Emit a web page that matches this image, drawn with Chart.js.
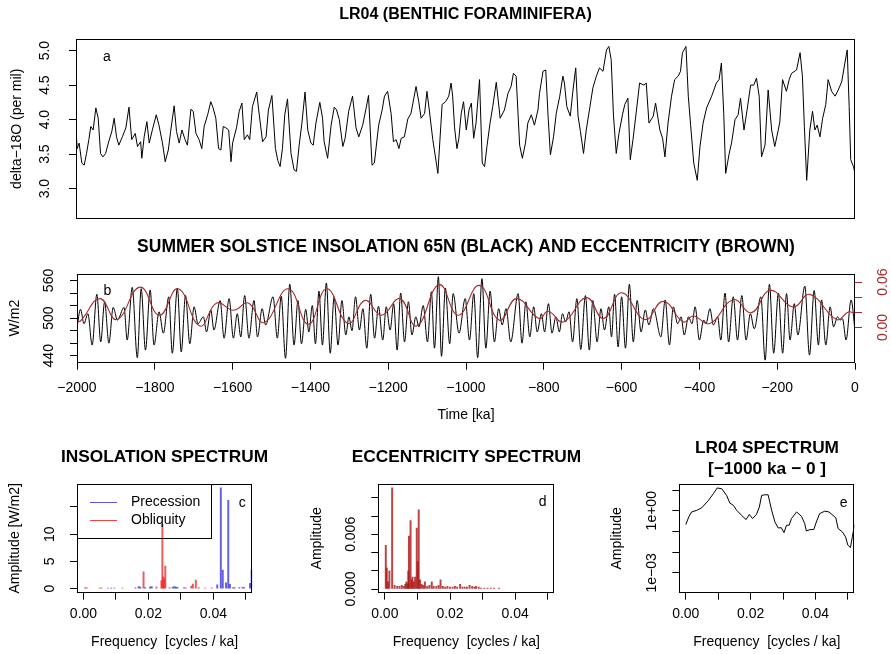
<!DOCTYPE html>
<html><head><meta charset="utf-8">
<script src="https://cdn.jsdelivr.net/npm/chart.js"></script>
<style>
html,body{margin:0;padding:0;background:#fff;width:891px;height:654px;overflow:hidden;position:relative;}
canvas{position:absolute;}
</style></head>
<body>
<canvas id="ca"></canvas><canvas id="cb"></canvas><canvas id="cc"></canvas><canvas id="cd"></canvas><canvas id="ce"></canvas>
<script>
// ---------- DATA ----------
const lr04Time = [-2000,-1997,-1992,-1985,-1979,-1973,-1967,-1962,-1956,-1949,-1943,-1937,-1931,-1924,-1917,-1908,-1902,-1896,-1890,-1881,-1872,-1864,-1857,-1848,-1842,-1834,-1831,-1825,-1818,-1812,-1804,-1794,-1787,-1778,-1771,-1763,-1757,-1748,-1742,-1735,-1728,-1720,-1714,-1705,-1699,-1692,-1684,-1677,-1671,-1662,-1654,-1648,-1641,-1634,-1628,-1622,-1615,-1608,-1602,-1598,-1588,-1581,-1574,-1568,-1560,-1554,-1547,-1536,-1531,-1521,-1512,-1506,-1497,-1488,-1482,-1476,-1470,-1464,-1457,-1448,-1440,-1434,-1427,-1420,-1412,-1405,-1397,-1391,-1384,-1374,-1367,-1363,-1354,-1345,-1337,-1331,-1324,-1315,-1309,-1300,-1290,-1281,-1274,-1264,-1255,-1249,-1240,-1234,-1223,-1214,-1208,-1200,-1191,-1185,-1178,-1171,-1165,-1157,-1148,-1140,-1127,-1120,-1114,-1105,-1099,-1093,-1084,-1074,-1071,-1060,-1051,-1043,-1037,-1033,-1028,-1022,-1017,-1011,-1005,-998,-991,-985,-979,-973,-964,-957,-951,-945,-937,-930,-921,-911,-900,-891,-883,-877,-870,-861,-854,-846,-840,-831,-823,-814,-810,-801,-794,-788,-782,-774,-767,-758,-750,-746,-740,-731,-724,-717,-711,-705,-697,-690,-681,-673,-664,-656,-647,-638,-632,-626,-620,-613,-606,-597,-591,-583,-577,-570,-561,-553,-542,-536,-529,-518,-512,-501,-494,-488,-480,-471,-463,-454,-448,-443,-434,-428,-422,-414,-405,-398,-390,-381,-368,-356,-349,-343,-337,-332,-323,-317,-308,-300,-294,-285,-277,-268,-260,-253,-246,-240,-231,-223,-214,-206,-197,-193,-186,-176,-169,-163,-150,-141,-135,-130,-124,-116,-109,-103,-97,-90,-83,-75,-69,-60,-51,-43,-34,-26,-20,-15,-11,-4,0];
const lr04D18O = [3.85,3.58,3.66,3.37,3.34,3.51,3.71,3.90,3.85,4.17,4.02,3.51,3.46,3.51,3.66,3.83,4.02,3.75,3.63,3.75,3.88,4.18,3.71,3.80,3.61,3.68,3.44,3.75,3.97,3.66,3.85,4.07,3.92,3.66,3.39,3.56,3.83,4.20,3.83,3.66,3.85,3.71,3.63,4.15,4.12,3.80,3.71,3.58,3.90,4.07,4.26,4.17,4.02,3.58,3.56,3.90,3.88,3.85,3.39,3.66,3.88,4.12,4.24,3.71,3.78,3.71,4.19,4.40,4.14,3.68,3.75,4.14,4.35,3.58,3.41,3.32,3.58,4.07,4.30,3.51,3.27,3.25,3.63,3.95,4.40,3.85,3.66,3.63,3.95,4.25,4.02,3.68,3.44,3.92,4.18,4.14,4.00,3.61,3.73,4.12,4.34,3.88,3.75,3.92,4.17,4.35,3.34,3.37,3.92,4.14,4.34,4.41,4.09,3.68,3.71,3.58,3.73,3.75,4.01,4.09,4.48,4.26,4.02,4.09,4.41,4.14,3.71,3.34,3.22,4.22,4.26,4.34,4.53,4.34,3.88,3.58,3.73,4.09,4.26,3.85,4.14,4.24,3.73,3.95,4.58,3.37,3.32,3.61,3.95,4.19,4.54,4.02,4.14,4.38,4.48,4.67,4.63,3.63,3.44,3.66,3.95,4.07,3.92,4.14,4.38,4.70,4.72,4.05,3.49,3.75,4.09,4.34,4.63,4.53,4.19,4.05,4.43,4.75,4.05,3.83,3.51,3.85,4.17,4.46,4.63,4.75,4.70,5.01,5.06,4.87,4.05,3.51,3.80,4.07,4.22,4.31,3.42,3.71,4.14,4.53,4.50,4.53,3.95,4.05,4.24,3.85,3.73,3.46,3.95,4.34,4.58,4.63,4.70,4.97,5.06,4.34,3.92,3.37,3.12,3.61,3.95,4.17,4.34,4.53,4.58,4.82,4.09,3.22,3.51,3.66,4.00,4.07,4.31,3.85,4.14,4.50,4.50,4.60,4.34,3.46,3.63,4.43,3.85,3.61,3.85,3.97,4.58,4.41,4.58,4.67,4.72,4.97,4.63,3.90,3.12,3.85,4.12,3.85,3.92,3.75,4.02,4.22,4.58,4.41,4.34,4.43,4.55,4.82,5.01,4.19,3.42,3.32,3.22];

const insolTime = [-2000,-1991,-1982,-1972,-1961,-1949,-1939,-1929,-1918,-1907,-1896,-1879,-1871,-1858,-1845,-1835,-1824,-1812,-1802,-1789,-1778,-1764,-1755,-1742,-1732,-1721,-1710,-1699,-1689,-1675,-1667,-1656,-1648,-1632,-1622,-1609,-1598,-1588,-1579,-1569,-1558,-1545,-1536,-1524,-1515,-1496,-1485,-1475,-1464,-1453,-1442,-1432,-1423,-1412,-1404,-1395,-1387,-1378,-1369,-1359,-1349,-1339,-1329,-1319,-1309,-1301,-1293,-1284,-1274,-1265,-1255,-1245,-1235,-1225,-1214,-1205,-1195,-1186,-1177,-1168,-1158,-1148,-1139,-1129,-1121,-1110,-1099,-1089,-1081,-1071,-1063,-1053,-1042,-1033,-1018,-1002,-991,-980,-970,-959,-949,-938,-927,-916,-907,-897,-885,-866,-856,-846,-836,-826,-817,-806,-798,-788,-779,-769,-760,-752,-744,-735,-726,-715,-705,-693,-683,-674,-663,-653,-644,-633,-626,-618,-609,-600,-590,-580,-570,-560,-550,-539,-530,-518,-499,-488,-477,-467,-456,-447,-439,-428,-419,-411,-400,-389,-383,-373,-364,-353,-345,-334,-325,-313,-302,-291,-280,-269,-259,-242,-231,-220,-209,-197,-186,-176,-167,-156,-147,-129,-117,-105,-94,-86,-75,-64,-55,-45,-38,-32,-23,-10,0];
const insolWm2 = [485,514,491,507,457,538,462,526,460,517,497,517,465,549,437,547,449,545,457,510,476,534,444,548,446,536,459,518,491,502,478,513,481,528,468,531,468,507,470,536,468,528,470,515,489,534,468,535,436,554,457,528,459,514,478,520,459,543,457,556,444,534,457,528,473,502,480,534,481,515,452,538,468,519,465,518,481,523,449,540,462,526,473,502,486,520,462,542,452,566,439,548,459,539,476,531,465,539,437,563,452,543,462,515,489,515,462,539,460,526,470,518,478,507,478,523,476,502,478,507,494,510,462,531,450,536,449,528,462,515,481,518,470,538,454,534,452,554,462,528,478,513,489,515,470,529,457,518,491,502,473,502,491,518,465,497,491,515,489,502,465,540,462,534,465,536,465,507,483,534,433,554,444,540,444,539,465,523,473,551,441,544,457,529,457,518,486,502,497,499,465,529,480];

const eccTime = [-2000,-1992,-1941,-1898,-1838,-1788,-1740,-1684,-1641,-1598,-1560,-1519,-1457,-1405,-1358,-1303,-1260,-1217,-1170,-1127,-1069,-1020,-966,-914,-870,-812,-789,-750,-690,-647,-600,-540,-493,-441,-416,-373,-313,-266,-218,-159,-116,-47,-17,0];
const eccValue = [0.0105,0.0083,0.0382,0.0105,0.0534,0.0162,0.0513,0.0020,0.0324,0.0228,0.0324,0.0066,0.0513,0.0043,0.0513,0.0053,0.0359,0.0162,0.0382,0.0020,0.0566,0.0162,0.0557,0.0096,0.0382,0.0118,0.0214,0.0074,0.0395,0.0118,0.0460,0.0105,0.0346,0.0074,0.0153,0.0053,0.0368,0.0197,0.0491,0.0271,0.0438,0.0105,0.0205,0.0184];

const precFreq = [0.0085,0.0095,0.0170,0.0175,0.0190,0.0205,0.0210,0.0275,0.0280,0.0285,0.0290,0.0315,0.0412,0.0423,0.0429,0.0439,0.0446,0.0451,0.0465,0.0480,0.0495,0.0513,0.0518];
const precAmp  = [0.1,0.1,0.4,0.3,0.2,0.3,0.4,0.3,0.4,0.3,0.2,0.1,0.7,18.5,3.4,1.1,16.2,0.8,0.2,0.2,0.2,1.0,3.4];
const obliqFreq = [0.0005,0.0010,0.0050,0.0055,0.0075,0.0120,0.0160,0.0185,0.0225,0.0240,0.0243,0.0246,0.0249,0.0252,0.0265,0.0310,0.0332,0.0337,0.0346,0.0355,0.0375,0.0395,0.0460,0.0490];
const obliqAmp  = [0.2,0.15,0.1,0.15,0.1,0.1,0.2,3.1,0.3,1.5,11.8,2.2,1.8,4.15,0.2,0.2,0.5,0.85,1.6,0.2,0.1,0.15,0.2,0.3];

const eccSpecFreq = [0.0003,0.0006,0.0010,0.0014,0.00225,0.0030,0.0038,0.0045,0.0052,0.0058,0.0063,0.0066,0.0070,0.0072,0.0074,0.0079,0.0082,0.0085,0.0089,0.0093,0.0098,0.0101,0.0104,0.0108,0.0113,0.0118,0.0123,0.0130,0.0137,0.0144,0.0150,0.0158,0.0165,0.0171,0.0178,0.0185,0.0192,0.0200,0.0208,0.0215,0.0222,0.0231,0.0238,0.0245,0.0252,0.0260,0.0268,0.0275,0.0280,0.0288,0.0295,0.0305,0.0315,0.0325,0.0335,0.0350];
const eccSpecAmp  = [0.0048,0.0023,0.0008,0.0020,0.0111,0.0004,0.0003,0.0003,0.0004,0.0003,0.0005,0.0008,0.0006,0.0020,0.0058,0.0075,0.0010,0.0013,0.0008,0.0013,0.0067,0.0030,0.0087,0.0010,0.0005,0.0004,0.0008,0.0003,0.0004,0.0008,0.0003,0.0003,0.0004,0.0010,0.0003,0.0002,0.0003,0.0002,0.0002,0.0003,0.0002,0.0005,0.0002,0.0002,0.0002,0.0004,0.0003,0.0002,0.0003,0.0002,0.0001,0.0001,0.0001,0.0001,0.0001,0.0001];

const lrSpecFreq = [0,0.0010,0.0018,0.0034,0.0049,0.0070,0.0085,0.0097,0.0111,0.0126,0.0136,0.0147,0.0157,0.0172,0.0186,0.0196,0.0206,0.0218,0.0227,0.0234,0.0244,0.0254,0.0265,0.0275,0.0285,0.0295,0.0303,0.0311,0.0319,0.0326,0.0342,0.0357,0.0367,0.0372,0.0383,0.0395,0.0403,0.0413,0.0429,0.0442,0.0463,0.0470,0.0483,0.0493,0.0500,0.0508,0.0514,0.0521];
const lrSpecAmp  = [0.214,0.537,0.871,1.05,1.38,3.16,6.61,12.6,11.5,5.50,2.34,1.82,1.05,0.603,0.372,0.661,0.417,0.661,1.51,5.50,5.89,5.89,1.05,0.288,0.148,0.151,0.0871,0.200,0.200,0.417,0.871,0.537,0.240,0.105,0.123,0.123,0.288,0.724,0.955,0.871,0.457,0.138,0.0955,0.0550,0.0219,0.0166,0.0550,0.219];

const timeTicks = [-2000,-1800,-1600,-1400,-1200,-1000,-800,-600,-400,-200,0];
const timeTickLabels = ['\u22122000','\u22121800','\u22121600','\u22121400','\u22121200','\u22121000','\u2212800','\u2212600','\u2212400','\u2212200','0'];
const d18oTicks = [3.0,3.5,4.0,4.5,5.0];
const d18oTickLabels = ['3.0','3.5','4.0','4.5','5.0'];
const insolTicks = [440,460,480,500,520,540,560];
const insolTickLabels = ['440','','','500','','','560'];
const eccTicks = [0,0.02,0.04,0.06];
const eccTickLabels = ['0.00','','','0.06'];
const freqTicks = [0,0.01,0.02,0.03,0.04,0.05];
const freqTickLabels = ['0.00','','0.02','','0.04',''];
const ampTicksC = [0,5,10,15];
const ampTickLabelsC = ['0','5','10',''];
const ampTicksD = [0,0.002,0.004,0.006,0.008,0.010];
const ampTickLabelsD = ['0.000','','','0.006','',''];
const ampTicksE = [0.001,0.01,0.1,1,10];
const ampTickLabelsE = ['1e\u221203','','','1e+00',''];

// ---------- HELPERS ----------
const FONT = "'Liberation Sans', Arial, Helvetica, sans-serif";
const BLACK = '#000';
const BROWN = '#A52A2A';
const PREC_COL = 'rgba(45,45,215,0.75)';
const OBL_COL = 'rgba(235,35,35,0.75)';
const ECCSPEC_COL = 'rgba(170,20,20,0.8)';
Chart.defaults.font.family = FONT;
Chart.defaults.font.size = 14;
Chart.defaults.color = BLACK;

const pts = (xs, ys) => xs.map((x, i) => ({x: x, y: ys[i]}));

function makeCanvas(id, left, top, w, h) {
  const c = document.getElementById(id);
  c.width = w; c.height = h;
  c.style.left = left + 'px'; c.style.top = top + 'px';
  c.style.width = w + 'px'; c.style.height = h + 'px';
  return c;
}

function scale(o) {
  const show = o.showTicks !== false;
  const col = o.color || BLACK;
  const rot = o.rot || 0;
  return {
    type: o.type || 'linear', position: o.position, min: o.min, max: o.max,
    bounds: 'data', offset: false, display: true,
    afterBuildTicks: s => { s.ticks = o.ticks.map(v => ({value: v})); },
    afterFit: s => { if (s.isHorizontal()) s.height = o.size; else s.width = o.size; },
    ticks: { display: show, autoSkip: false, color: col, font: {size: 14}, padding: o.pad || 0,
             minRotation: rot, maxRotation: rot, crossAlign: rot ? 'center' : 'near',
             callback: (v, i) => (o.labels ? o.labels[i] : '') },
    grid: { display: show, drawOnChartArea: false, drawTicks: true, tickLength: 7, color: col, lineWidth: 1, offset: false },
    border: { display: false },
    title: o.title ? { display: true, text: o.title, color: BLACK, font: {size: 14}, padding: o.titlePad } : { display: false }
  };
}
// empty spacer scale on the right so that the plot sits symmetric in its canvas
function spacer(w) { return scale({position: 'right', min: 0, max: 1, ticks: [], showTicks: false, size: w}); }

function titleCfg(text, size, top, bottom, full, lh) {
  return { display: true, text: text, fullSize: full, color: BLACK,
           font: {size: size, weight: 'bold', lineHeight: lh || 1.2}, padding: {top: top, bottom: bottom} };
}

const decorPlugin = {
  id: 'decor',
  afterDatasetsDraw(chart, args, o) {
    const ctx = chart.ctx, a = chart.chartArea;
    ctx.save();
    ctx.strokeStyle = BLACK; ctx.lineWidth = 1;
    const L = Math.round(a.left) + 0.5, T = Math.round(a.top) + 0.5;
    const R = Math.round(a.right) - 0.5, B = Math.round(a.bottom) - 0.5;
    ctx.strokeRect(L, T, R - L, B - T);
    if (o.letter) {
      const xs = chart.scales.x, ys = chart.scales[o.letter.axis || 'y'];
      ctx.fillStyle = BLACK; ctx.font = '14px ' + FONT;
      ctx.textAlign = 'center'; ctx.textBaseline = 'middle';
      ctx.fillText(o.letter.text, xs.getPixelForValue(o.letter.x), ys.getPixelForValue(o.letter.y));
    }
    if (o.legend) {
      const lg = o.legend;
      ctx.font = '14px ' + FONT; ctx.textAlign = 'left'; ctx.textBaseline = 'middle';
      let maxW = 0;
      lg.items.forEach((it, i) => {
        const y = Math.round(a.top + lg.firstRow + i * lg.rowGap) + 0.5;
        ctx.strokeStyle = it.color; ctx.lineWidth = 1;
        ctx.beginPath(); ctx.moveTo(a.left + lg.lineX0, y); ctx.lineTo(a.left + lg.lineX1, y); ctx.stroke();
        ctx.fillStyle = BLACK; ctx.fillText(it.text, a.left + lg.textX, y);
        maxW = Math.max(maxW, ctx.measureText(it.text).width);
      });
      ctx.strokeStyle = BLACK; ctx.lineWidth = 1;
      ctx.strokeRect(L, T, Math.round(lg.textX + maxW + lg.padR), Math.round(lg.height));
    }
    ctx.restore();
  }
};

const common = { devicePixelRatio: 1, animation: false, responsive: false, events: [] };

// ---------- PANEL a ----------
new Chart(makeCanvas('ca', 0, 0, 891, 244), {
  type: 'line',
  data: { datasets: [{ data: pts(lr04Time, lr04D18O), borderColor: BLACK, borderWidth: 1, pointRadius: 0, tension: 0 }] },
  options: Object.assign({}, common, {
    layout: { padding: { left: 0, right: 36, top: 0, bottom: 0 } },
    scales: {
      x: scale({position: 'bottom', min: -2000, max: 0, ticks: timeTicks, showTicks: false, size: 25}),
      y: scale({position: 'left', min: 2.56, max: 5.174, ticks: d18oTicks, labels: d18oTickLabels, size: 76, pad: 14, rot: 90,
                title: 'delta\u221218O (per mil)', titlePad: {top: 8.3, bottom: 0}})
    },
    plugins: { legend: {display: false}, tooltip: {enabled: false},
      title: titleCfg('LR04 (BENTHIC FORAMINIFERA)', 16, 5.4, 14.0, false),
      decor: { letter: {text: 'a', x: -1921, y: 4.90} } }
  }),
  plugins: [decorPlugin]
});

// ---------- PANEL b ----------
new Chart(makeCanvas('cb', 0, 228, 891, 205), {
  type: 'line',
  data: { datasets: [
    { data: pts(eccTime, eccValue), yAxisID: 'y2', order: 0, borderColor: BROWN, borderWidth: 1.1, pointRadius: 0, tension: 0.45 },
    { data: pts(insolTime, insolWm2), yAxisID: 'y', order: 1, borderColor: BLACK, borderWidth: 1, pointRadius: 0, cubicInterpolationMode: 'monotone' }
  ] },
  options: Object.assign({}, common, {
    layout: { padding: 0 },
    scales: {
      x: scale({position: 'bottom', min: -2000, max: 0, ticks: timeTicks, labels: timeTickLabels, size: 70.3, pad: 10.2,
                title: 'Time [ka]', titlePad: {top: 0, bottom: 9.5}}),
      y: scale({position: 'left', min: 428.9, max: 571.1, ticks: insolTicks, labels: insolTickLabels, size: 77, pad: 9, rot: 90,
                title: 'W/m2', titlePad: {top: 6.6, bottom: 0}}),
      y2: scale({position: 'right', min: -0.04658, max: 0.07145, ticks: eccTicks, labels: eccTickLabels, size: 36, pad: 7.4, rot: 90, color: BROWN})
    },
    plugins: { legend: {display: false}, tooltip: {enabled: false},
      title: titleCfg('SUMMER SOLSTICE INSOLATION 65N (BLACK) AND ECCENTRICITY (BROWN)', 17.5, 8.3, 16.2, false),
      decor: { letter: {text: 'b', x: -1922, y: 542.6} } }
  }),
  plugins: [decorPlugin]
});

// ---------- PANEL c ----------
new Chart(makeCanvas('cc', 0, 430, 329, 224), {
  type: 'bar',
  data: { datasets: [
    { label: 'Precession', data: pts(precFreq, precAmp), backgroundColor: PREC_COL, borderWidth: 0, barThickness: 1.3, grouped: false },
    { label: 'Obliquity', data: pts(obliqFreq, obliqAmp), backgroundColor: OBL_COL, borderWidth: 0, barThickness: 1.3, grouped: false }
  ] },
  options: Object.assign({}, common, {
    layout: { padding: 0 },
    scales: {
      x: scale({position: 'bottom', min: -0.002, max: 0.052, ticks: freqTicks, labels: freqTickLabels, size: 61.3, pad: 6.4,
                title: 'Frequency  [cycles / ka]', titlePad: {top: 0, bottom: 3.9}}),
      y: scale({position: 'left', min: -0.73, max: 19.21, ticks: ampTicksC, labels: ampTickLabelsC, size: 77, pad: 12.2, rot: 90,
                title: 'Amplitude [W/m2]', titlePad: {top: 6.6, bottom: 0}}),
      yr: spacer(76.7)
    },
    plugins: { legend: {display: false}, tooltip: {enabled: false},
      title: titleCfg('INSOLATION SPECTRUM', 17.3, 16.5, 16.7, true),
      decor: { letter: {text: 'c', x: 0.0489, y: 15.7},
               legend: { items: [{text: 'Precession', color: 'rgba(60,60,200,0.85)'}, {text: 'Obliquity', color: 'rgba(230,40,40,0.85)'}],
                         firstRow: 18, rowGap: 18.3, lineX0: 13, lineX1: 40, textX: 54, padR: 11, height: 53.6 } } }
  }),
  plugins: [decorPlugin]
});

// ---------- PANEL d ----------
new Chart(makeCanvas('cd', 300, 430, 333, 224), {
  type: 'bar',
  data: { datasets: [
    { label: 'Eccentricity', data: pts(eccSpecFreq, eccSpecAmp), backgroundColor: ECCSPEC_COL, borderWidth: 0, barThickness: 1.3, grouped: false }
  ] },
  options: Object.assign({}, common, {
    layout: { padding: 0 },
    scales: {
      x: scale({position: 'bottom', min: -0.002, max: 0.052, ticks: freqTicks, labels: freqTickLabels, size: 61.3, pad: 6.4,
                title: 'Frequency  [cycles / ka]', titlePad: {top: 0, bottom: 3.9}}),
      y: scale({position: 'left', min: -0.000405, max: 0.01153, ticks: ampTicksD, labels: ampTickLabelsD, size: 78.3, pad: 2.5, rot: 90,
                title: 'Amplitude', titlePad: {top: 8.3, bottom: 0}}),
      yr: spacer(78.7)
    },
    plugins: { legend: {display: false}, tooltip: {enabled: false},
      title: titleCfg('ECCENTRICITY SPECTRUM', 17.3, 16.5, 16.7, true),
      decor: { letter: {text: 'd', x: 0.0484, y: 0.00956} } }
  }),
  plugins: [decorPlugin]
});

// ---------- PANEL e ----------
new Chart(makeCanvas('ce', 600, 430, 334, 224), {
  type: 'line',
  data: { datasets: [
    { data: pts(lrSpecFreq, lrSpecAmp), borderColor: BLACK, borderWidth: 1, pointRadius: 0, tension: 0 }
  ] },
  options: Object.assign({}, common, {
    layout: { padding: 0 },
    scales: {
      x: scale({position: 'bottom', min: -0.002, max: 0.052, ticks: freqTicks, labels: freqTickLabels, size: 61.3, pad: 6.4,
                title: 'Frequency  [cycles / ka]', titlePad: {top: 0, bottom: 3.9}}),
      y: scale({type: 'logarithmic', position: 'left', min: 0.00011, max: 19.4, ticks: ampTicksE, labels: ampTickLabelsE, size: 79.3, pad: 0.9, rot: 90,
                title: 'Amplitude', titlePad: {top: 8.3, bottom: 0}}),
      yr: spacer(79.7)
    },
    plugins: { legend: {display: false}, tooltip: {enabled: false},
      title: titleCfg(['LR04 SPECTRUM', '[\u22121000 ka \u2212 0 ]'], 17.3, 8.2, 4.7, true, 1.19),
      decor: { letter: {text: 'e', x: 0.0487, y: 2.27} } }
  }),
  plugins: [decorPlugin]
});
</script>
</body></html>
